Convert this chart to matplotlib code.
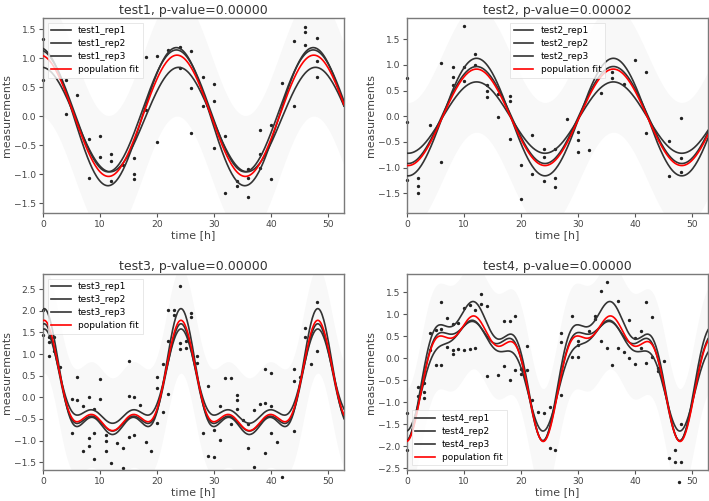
import numpy as np
import matplotlib
matplotlib.use("Agg")
import matplotlib.pyplot as plt
from matplotlib.ticker import MultipleLocator

# ---------------- data ----------------
titles = ["test1, p-value=0.00000", "test2, p-value=0.00002",
          "test3, p-value=0.00000", "test4, p-value=0.00000"]
names = ["test1", "test2", "test3", "test4"]
period = 24.0
x_max = 52.8

# measurements (time [h], value)
test1_t = [0, 0, 4, 4, 6, 8, 8, 10, 10, 12, 12, 12, 14, 16, 16, 16, 18, 18, 20, 20,
           22, 24, 24, 26, 26, 26, 28, 28, 30, 30, 30, 32, 32, 34, 34, 36, 36, 36,
           38, 38, 38, 40, 40, 42, 44, 44, 46, 46, 46, 48, 48, 48]
test1_y = [1.32, 0.62, 0.62, 0.03, 0.36, -0.40, -1.07, -0.34, -0.70, -0.65, -0.78, -1.12,
           -0.84, -0.72, -0.99, -1.08, 1.02, 0.10, 1.04, -0.44,
           1.14, 1.19, 0.82, 1.12, 0.48, -0.29, 0.67, 0.18, 0.55, 0.26, -0.55, -0.34, -1.32,
           -1.12, -1.20, -0.91, -1.07, -1.39, -0.24, -0.66, -0.90, -0.16, -1.08, 0.57,
           1.29, 0.18, 1.54, 1.45, 1.22, 1.35, 0.95, 0.68]

test2_t = [0, 0, 0, 2, 2, 2, 4, 6, 6, 8, 8, 8, 10, 10, 10, 12, 12, 14, 14, 14, 16, 16,
           18, 18, 18, 20, 20, 22, 22, 24, 24, 24, 26, 26, 26, 28, 30, 30, 30, 32, 34,
           36, 36, 38, 40, 42, 42, 46, 46, 48, 48, 48]
test2_y = [0.75, -0.12, -1.24, -1.20, -1.36, -1.50, -0.16, 1.04, -0.90, 0.97, 0.77, 0.61,
           1.75, 0.97, 0.69, 1.21, 0.99, 0.61, 0.49, 0.38, -0.02, 0.43,
           0.40, 0.29, -0.44, -0.95, -1.61, -0.37, -1.13, -0.64, -0.80, -1.26, -1.21, -1.37,
           -0.64, -0.05, -0.31, -0.46, -0.69, -0.65, 0.45, 0.87, 0.74, 0.63, 1.10, 0.87,
           -0.33, -0.48, -1.16, -0.04, -0.81, -1.08]

test3_t = [0, 0, 1, 1, 1, 2, 2, 3, 5, 5, 6, 6, 7, 7, 8, 8, 8, 9, 9, 9, 10, 10, 11, 11, 11,
           12, 13, 14, 14, 15, 15, 15, 16, 16, 17, 18, 19, 20, 20, 20, 21, 21, 22, 22, 22,
           23, 23, 24, 24, 24, 25, 25, 26, 26, 27, 27, 28, 29, 29, 30, 30, 31, 31, 32, 33,
           33, 34, 34, 34, 35, 36, 36, 37, 37, 38, 39, 39, 39, 40, 40, 40, 41, 42, 44, 44,
           44, 45, 46, 46, 47, 48, 48]
test3_y = [2.02, 1.44, 1.40, 1.27, 0.96, 1.39, 1.06, 0.70, -0.03, -0.83, 0.47, -0.06,
           -0.19, -1.24, 0.01, -0.94, -1.12, -0.28, -0.82, -1.43, 0.42, -0.04, -0.87, -1.00,
           -1.24, -1.51, -1.06, -1.16, -1.64, 0.83, 0.04, -0.91, 0.01, -0.88, -0.17, -1.04,
           -1.24, 0.46, 0.21, -0.60, 0.76, -0.34, 2.02, 1.29, 0.08, 2.02, 1.90, 2.58, 1.25,
           1.12, 1.29, 1.14, 1.96, 1.85, 0.96, 0.79, -0.82, 0.26, -1.35, -0.75, -1.39, -0.21,
           -0.98, 0.44, 0.44, -0.61, 0.06, -0.06, -0.26, -0.52, -0.61, -1.16, -0.29, -1.60,
           -0.16, 0.65, -0.14, -1.28, 0.57, -0.21, -0.82, -1.04, -1.85, 0.65, 0.38, -0.78,
           0.48, 1.60, 1.40, 0.77, 2.20, 1.07]

test4_t = [0, 0, 2, 2, 3, 3, 3, 4, 4, 5, 5, 6, 6, 6, 7, 7, 8, 8, 8, 9, 9, 10, 10, 11, 11,
           12, 12, 13, 13, 14, 14, 16, 17, 17, 18, 18, 19, 19, 20, 20, 21, 21, 22, 23, 24,
           25, 25, 26, 27, 27, 27, 29, 29, 30, 30, 30, 32, 33, 33, 34, 34, 35, 35, 36, 37,
           37, 38, 39, 39, 40, 40, 41, 41, 42, 42, 43, 43, 44, 44, 45, 46, 47, 47, 48, 48,
           47.8]
test4_y = [-1.25, -2.08, -0.66, -0.87, -0.57, -0.78, -0.91, 0.56, 0.19, -0.16, 0.64,
           1.28, 0.65, -0.16, 0.90, 0.26, 0.77, 0.09, 0.18, 0.79, 0.20, 1.13, 0.18, 1.20,
           0.20, 1.09, 0.22, 1.45, 1.24, 1.18, -0.41, -0.38, 0.84, -0.19, 0.84, -0.50, 0.96,
           -0.28, -0.24, -0.36, 0.27, -0.27, -0.95, -1.22, -1.24, -1.12, -2.03, -2.08, 0.56,
           0.37, -0.84, 0.96, 0.03, 0.40, 0.30, 0.03, 0.62, 0.96, 0.88, 1.53, 0.39, 1.72,
           0.24, -0.16, 1.30, 0.24, 0.15, 0.86, 0.00, 0.45, -0.14, 0.62, 0.23, 1.28, -0.10,
           0.93, 0.02, -0.23, -0.29, -0.06, -2.27, -2.08, -2.36, -2.36, -1.49, -2.82]

# cosinor fit parameters per curve: rep1, rep2, rep3, population fit
# value = mesor + sum_k amp_k * cos(2*pi*k*(t - acro_k)/period)
test1_mesor = [0.09, -0.01, -0.06, 0.005]
test1_amp = [[1.05], [1.19], [0.90], [1.045]]
test1_acro = [[23.4], [23.4], [23.8], [23.5]]

test2_mesor = [-0.015, 0.025, -0.025, -0.02]
test2_amp = [[1.145], [0.945], [0.695], [0.94]]
test2_acro = [[12.2], [12.2], [12.2], [12.2]]

test3_mesor = [-0.0375, -0.07, 0.04, -0.0275]
test3_amp = [[1.048, 0.6325, 0.407], [0.897, 0.53, 0.343], [0.797, 0.45, 0.293],
             [0.921, 0.5325, 0.354]]
test3_acro = [[0.2, 0.2, 0.2], [0.2, 0.2, 0.2], [0.2, 0.2, 0.2], [0.2, 0.2, 0.2]]

test4_mesor = [0.173, -0.006, -0.093, -0.016]
test4_amp = [[1.170, 0.477, 0.414], [1.023, 0.521, 0.328], [0.983, 0.318, 0.271],
             [1.053, 0.455, 0.372]]
test4_acro = [[11.49, 6.06, 3.85], [11.57, 6.03, 3.81], [11.57, 6.23, 3.78],
              [11.65, 6.06, 3.89]]

band_halfwidth = [1.05, 1.23, 1.22, 1.2]
ylims = [(-1.67, 1.69), (-1.884, 1.915), (-1.68, 2.85), (-2.54, 1.91)]
legend_locs = ["upper left", "upper center", "upper left", "lower left"]

measurements = [(test1_t, test1_y), (test2_t, test2_y), (test3_t, test3_y), (test4_t, test4_y)]
params = [(test1_mesor, test1_amp, test1_acro), (test2_mesor, test2_amp, test2_acro),
          (test3_mesor, test3_amp, test3_acro), (test4_mesor, test4_amp, test4_acro)]


def cosinor(t, mesor, amps, acros):
    y = np.full_like(t, mesor, dtype=float)
    for k, (a, c) in enumerate(zip(amps, acros), start=1):
        y += a * np.cos(2 * np.pi * k * (t - c) / period)
    return y


# ---------------- style ----------------
plt.rcParams.update({
    "font.family": ["DejaVu Sans"],
    "font.size": 7,
    "axes.edgecolor": "#7a7a7a",
    "axes.linewidth": 1.0,
    "axes.labelcolor": "#444444",
    "xtick.color": "#555555",
    "ytick.color": "#555555",
    "xtick.labelcolor": "#444444",
    "ytick.labelcolor": "#444444",
    "xtick.labelsize": 6.6,
    "ytick.labelsize": 6.6,
    "axes.titlesize": 9,
    "axes.titlecolor": "#333333",
    "axes.labelsize": 7.9,
})

fig = plt.figure(figsize=(7.09, 5.01), dpi=100)
W, H = 709.0, 501.0
boxes = [(43, 18, 344, 213), (407, 18, 708, 213), (43, 274, 344, 470), (407, 274, 708, 470)]

x_fit = np.linspace(0, x_max, 400)
for i in range(4):
    x0, y0, x1, y1 = boxes[i]
    ax = fig.add_axes([x0 / W, 1 - y1 / H, (x1 - x0) / W, (y1 - y0) / H])
    mes, amps, acros = params[i]
    pop = cosinor(x_fit, mes[3], amps[3], acros[3])
    ax.fill_between(x_fit, pop - band_halfwidth[i], pop + band_halfwidth[i],
                    color="#f8f8f8", lw=0, zorder=0)
    t, y = measurements[i]
    ax.plot(t, y, "o", color="#222222", markersize=1.4, lw=0, zorder=2, clip_on=False)
    for r in range(3):
        ax.plot(x_fit, cosinor(x_fit, mes[r], amps[r], acros[r]), color="#333333",
                lw=1.2, zorder=3, label=f"{names[i]}_rep{r + 1}")
    ax.plot(x_fit, pop, color="red", lw=1.2, zorder=4, label="population fit")
    ax.set_xlim(0, x_max)
    ax.set_ylim(*ylims[i])
    ax.xaxis.set_major_locator(MultipleLocator(10))
    ax.yaxis.set_major_locator(MultipleLocator(0.5))
    ax.set_title(titles[i], pad=3)
    ax.set_xlabel("time [h]", labelpad=1)
    ax.set_ylabel("measurements", labelpad=1.5)
    ax.tick_params(length=3, width=0.8, pad=2)
    leg = ax.legend(loc=legend_locs[i], fontsize=6.5, framealpha=0.8, edgecolor="#dddddd",
                    fancybox=False, borderpad=0.4, labelspacing=0.45, handlelength=2.2)
    leg.get_frame().set_linewidth(0.6)

fig.savefig("out.png", dpi=100)
